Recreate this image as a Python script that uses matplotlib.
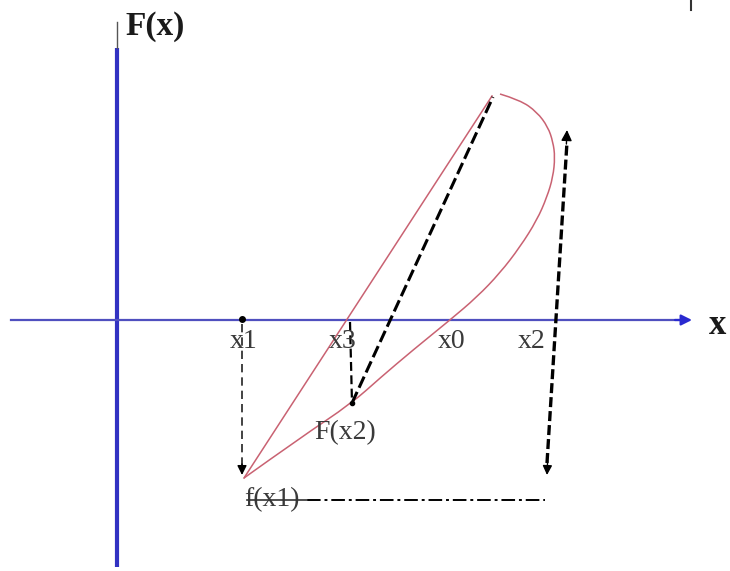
import matplotlib
matplotlib.use("Agg")
import matplotlib.pyplot as plt
from matplotlib.path import Path
from matplotlib.patches import PathPatch

# ---- diagram data (origin at the axes crossing, y up) ----
h_axis_x = [-106, 563]          # horizontal axis extent (arrow goes to 575)
h_axis_tip = 575
v_axis_y = [-247, 272]          # vertical blue axis
v_axis_top = 298                # thin grey continuation

x1, fx1 = 125, -158
x3, fx2 = 233, -83
fx2_x = 235
x2_bottom = (430, -155)
x2_top = (450, 190)
secant_top = (376, 223)
chord_top = (375, 224)

curve_x = [383, 403, 420, 431, 436, 438, 436, 430, 420, 403, 383, 360, 333,
           296, 263, 235, 183, 127]
curve_y = [226, 220, 208, 193, 178, 163, 143, 123, 100, 73, 47, 23, 0,
           -30, -58, -83, -118, -158]

baseline_y = -180
baseline_x = [190, 428]

tick_labels = ["x1", "x3", "x0", "x2"]
tick_pos = [127, 226, 335, 415]
tick_label_y = -21

fig = plt.figure(figsize=(7.3, 5.71), dpi=100)
ax = fig.add_axes([0, 0, 1, 1])
ax.set_xlim(-117, 613)
ax.set_ylim(-251, 320)
ax.axis("off")

blue_v = "#3232c2"
blue_h = "#4f4fbf"
red = "#c96272"
serif = ["Liberation Serif", "DejaVu Serif"]

# axes
ax.plot([0, 0], v_axis_y, color=blue_v, lw=3.0, solid_capstyle="butt", zorder=2)
ax.plot([0, 0], [v_axis_y[1], v_axis_top], color="#555555", lw=1.0, zorder=2)
ax.plot(h_axis_x, [0, 0], color=blue_h, lw=1.6, zorder=2)
ax.annotate("", xy=(h_axis_tip, 0), xytext=(h_axis_x[1] - 5, 0),
            arrowprops=dict(arrowstyle="-|>", color="#2a2ad0", lw=1.6,
                            mutation_scale=16, shrinkA=0, shrinkB=0), zorder=3)

# small tick at top right
ax.plot([574, 574], [320, 310], color="#333333", lw=1.5)

# red curve: straight chord + rounded loop (smooth quadratic path through read points)
ax.plot([x1 + 2, chord_top[0]], [fx1, chord_top[1]], color=red, lw=1.1, zorder=3)
pts = list(zip(curve_x, curve_y))
verts = [pts[0]]
codes = [Path.MOVETO]
for i in range(1, len(pts) - 1):
    if i < len(pts) - 2:
        end = ((pts[i][0] + pts[i + 1][0]) / 2, (pts[i][1] + pts[i + 1][1]) / 2)
    else:
        end = pts[-1]
    verts += [pts[i], end]
    codes += [Path.CURVE3, Path.CURVE3]
ax.add_patch(PathPatch(Path(verts, codes), facecolor="none", edgecolor=red,
                       lw=1.1, zorder=3))

# secant dashed line
ax.plot([fx2_x, secant_top[0]], [fx2, secant_top[1]], color="black", lw=2.2,
        dashes=(4, 1.5), zorder=4)

# x1 vertical dashed with arrow
ax.plot([x1, x1], [-4, fx1 + 12], color="#222222", lw=1.2, dashes=(5, 3), zorder=4)
ax.annotate("", xy=(x1, fx1 + 3), xytext=(x1, fx1 + 14),
            arrowprops=dict(arrowstyle="-|>", color="black", lw=1,
                            mutation_scale=14, shrinkA=0, shrinkB=0), zorder=5)
ax.plot([x1], [1], "o", color="black", ms=4, zorder=5)

# x3 vertical dashed
ax.plot([x3, fx2_x], [-2, fx2], color="black", lw=1.6, dashes=(4, 2), zorder=4)
ax.plot([fx2_x], [fx2], "o", color="black", ms=3, zorder=5)

# x2 double arrow (dashed)
ax.plot([x2_bottom[0], x2_top[0]], [x2_bottom[1] + 12, x2_top[1] - 12],
        color="black", lw=2.4, dashes=(3, 1.2), zorder=4)
ax.annotate("", xy=x2_top, xytext=(x2_top[0] - 0.6, x2_top[1] - 14),
            arrowprops=dict(arrowstyle="-|>", color="black", lw=1,
                            mutation_scale=16, shrinkA=0, shrinkB=0), zorder=5)
ax.annotate("", xy=x2_bottom, xytext=(x2_bottom[0] + 0.6, x2_bottom[1] + 14),
            arrowprops=dict(arrowstyle="-|>", color="black", lw=1,
                            mutation_scale=14, shrinkA=0, shrinkB=0), zorder=5)

# dash-dot baseline
ax.plot(baseline_x, [baseline_y, baseline_y], color="black", lw=1.4,
        dashes=(7, 2, 1.5, 2), zorder=4)

# labels
for lab, xp in zip(tick_labels, tick_pos):
    ax.text(xp, tick_label_y, lab, ha="center", va="center", fontsize=20,
            family=serif, color="#3a3a3a", zorder=6)
ax.text(228, -113, "F(x2)", ha="center", va="center", fontsize=20,
        family=serif, color="#3a3a3a", zorder=6)
ax.text(155, -180, "f(x1)", ha="center", va="center", fontsize=20,
        family=serif, color="#3a3a3a", zorder=6)
ax.plot([130, 190], [baseline_y, baseline_y], color="#333333", lw=1.2, zorder=7)
ax.text(8, 293, "F(x)", ha="left", va="center", fontsize=24, family=serif,
        fontweight="bold", color="#1a1a1a")
ax.text(601, -5, "x", ha="center", va="center", fontsize=25, family=serif,
        fontweight="bold", color="#1a1a1a")

fig.savefig("out.png", dpi=100)
